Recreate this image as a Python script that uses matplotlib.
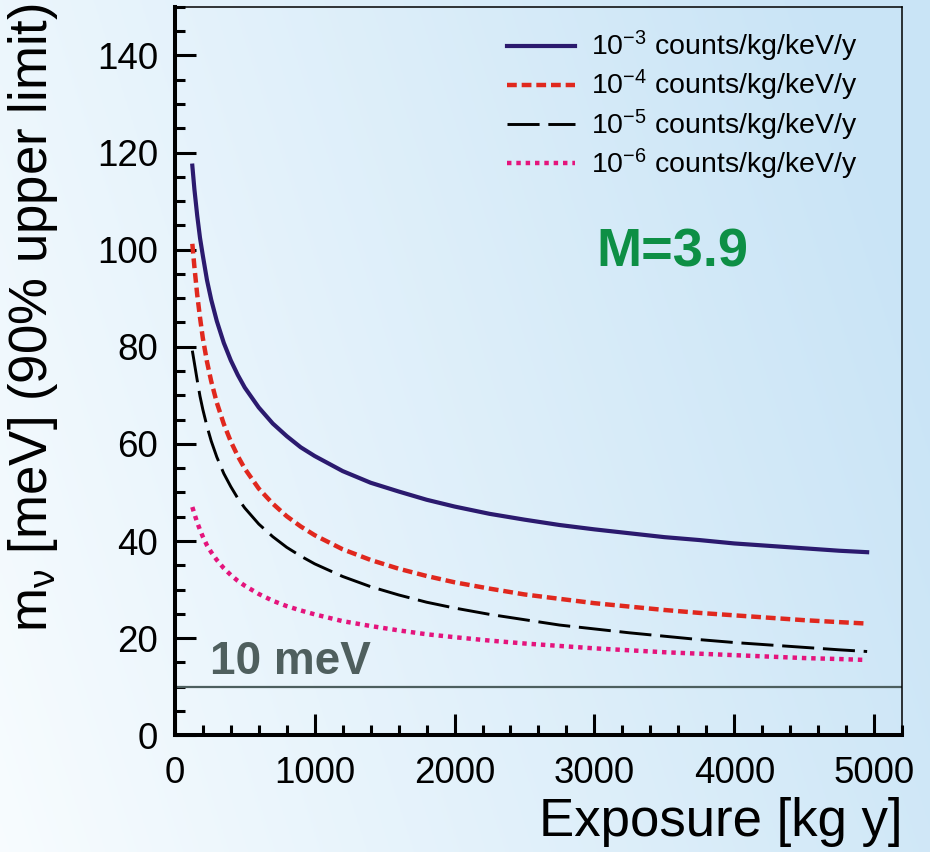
import numpy as np
import matplotlib
matplotlib.use("Agg")
import matplotlib.pyplot as plt
from matplotlib.ticker import MultipleLocator

plt.rcParams['font.family'] = ['Liberation Sans', 'DejaVu Sans']
plt.rcParams['mathtext.fontset'] = 'custom'
plt.rcParams['mathtext.rm'] = 'Liberation Sans'
plt.rcParams['mathtext.it'] = 'Liberation Sans:italic'

# exposure grid [kg y] and upper limits [meV]
exposure = [125, 140, 160, 180, 200, 230, 260, 300, 350, 400, 450, 500,
            600, 700, 800, 900, 1000, 1200, 1400, 1600, 1800, 2000, 2250,
            2500, 2750, 3000, 3250, 3500, 3750, 4000, 4250, 4500, 4750, 4950]
bkg_1e3 = [117.3, 112.4, 107.0, 102.4, 98.8, 93.7, 89.7, 85.3, 80.8, 77.2,
           74.2, 71.6, 67.5, 64.2, 61.6, 59.3, 57.5, 54.4, 52.0, 50.2, 48.5,
           47.1, 45.6, 44.4, 43.3, 42.4, 41.6, 40.8, 40.2, 39.5, 39.0, 38.5,
           38.0, 37.7]
bkg_1e4 = [101.2, 96.4, 90.7, 86.0, 81.8, 76.9, 72.9, 68.5, 64.1, 60.5,
           57.5, 54.9, 50.8, 47.7, 45.1, 43.0, 41.2, 38.3, 36.1, 34.3, 32.8,
           31.5, 30.2, 29.0, 28.1, 27.2, 26.5, 25.8, 25.2, 24.7, 24.2, 23.7,
           23.3, 23.0]
bkg_1e5 = [79.2, 76.6, 73.1, 69.8, 67.1, 63.6, 60.6, 57.3, 53.9, 51.2,
           48.8, 46.8, 43.5, 40.9, 38.7, 36.9, 35.3, 32.7, 30.6, 28.9, 27.4,
           26.2, 24.9, 23.8, 22.7, 21.9, 21.1, 20.4, 19.7, 19.1, 18.6, 18.1,
           17.6, 17.25]
bkg_1e6 = [47.0, 45.6, 43.8, 42.3, 40.9, 39.1, 37.7, 36.1, 34.4, 33.0,
           31.8, 30.8, 29.1, 27.7, 26.6, 25.7, 24.9, 23.5, 22.5, 21.6, 20.8,
           20.2, 19.5, 18.9, 18.4, 17.9, 17.5, 17.1, 16.8, 16.5, 16.2, 15.9,
           15.7, 15.5]
labels = ['10$^{-3}$ counts/kg/keV/y', '10$^{-4}$ counts/kg/keV/y',
          '10$^{-5}$ counts/kg/keV/y', '10$^{-6}$ counts/kg/keV/y']
ref_mass = 10

fig = plt.figure(figsize=(9.3, 8.52), dpi=100)

# background gradient: whitish bottom-left to light blue right
bg = fig.add_axes([0, 0, 1, 1], zorder=-10)
gx, gy = np.meshgrid(np.linspace(0, 1, 300), np.linspace(1, 0, 300))
t = np.clip(0.85 * gx + 0.25 * gy, 0, 1)[..., None]
c0 = np.array([0.97, 0.988, 0.998])
c1 = np.array([0.79, 0.895, 0.965])
bg.imshow(c0 + (c1 - c0) * t, aspect='auto', extent=[0, 1, 0, 1])
bg.axis('off')

ax = fig.add_axes([0.188, 0.137, 0.782, 0.855])
ax.set_facecolor('none')

ax.plot(exposure, bkg_1e3, color='#2b1a6e', lw=3.0, label=labels[0])
ax.plot(exposure, bkg_1e4, color='#e0281e', lw=3.2, dashes=(2.2, 1.1),
        label=labels[1])
ax.plot(exposure, bkg_1e5, color='black', lw=2.1, dashes=(11, 3),
        label=labels[2])
ax.plot(exposure, bkg_1e6, color='#e4147c', lw=3.2, dashes=(1, 1.1),
        label=labels[3])

ax.axhline(ref_mass, color='#4d5f5f', lw=1.6)
ax.text(250, 12.6, '10 meV', color='#4f5f5e', fontsize=33,
        fontweight='bold', ha='left', va='baseline')
ax.text(3556, 99.4, 'M=3.9', color='#0d8f45', fontsize=39,
        fontweight='bold', ha='center', va='center')

ax.set_xlim(0, 5200)
ax.set_ylim(0, 150)
ax.xaxis.set_major_locator(MultipleLocator(1000))
ax.xaxis.set_minor_locator(MultipleLocator(200))
ax.yaxis.set_major_locator(MultipleLocator(20))
ax.yaxis.set_minor_locator(MultipleLocator(5))
ax.tick_params(which='both', direction='in', width=2.2, labelsize=26.5,
               top=False, right=False)
ax.tick_params(which='major', length=15)
ax.tick_params(which='minor', length=7.5)
ax.tick_params(axis='x', which='major', pad=15)
ax.tick_params(axis='y', which='major', pad=12)
for s in ['left', 'bottom']:
    ax.spines[s].set_linewidth(2.9)
for s in ['top', 'right']:
    ax.spines[s].set_linewidth(1.1)

ax.set_xlabel('Exposure [kg y]', fontsize=38, loc='right', labelpad=4)
ax.set_ylabel(r'm$_\mathregular{ν}$ [meV] (90% upper limit)', fontsize=38)
ax.yaxis.set_label_coords(-0.158, 0.573)

ax.legend(loc='upper left', bbox_to_anchor=(0.545, 0.966),
          bbox_transform=fig.transFigure, frameon=False, fontsize=20.5,
          handlelength=2.4, handletextpad=0.55, labelspacing=0.14,
          borderpad=0, borderaxespad=0)

fig.savefig('out.png', dpi=100)
